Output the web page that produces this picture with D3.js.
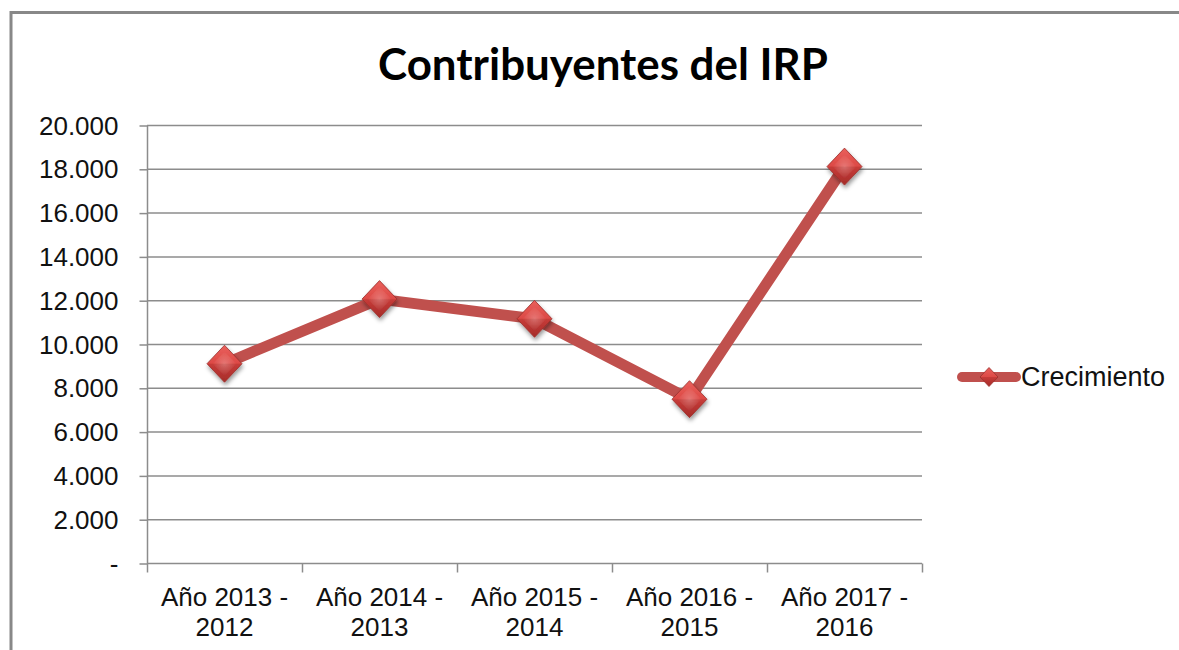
<!DOCTYPE html>
<html>
<head>
<meta charset="utf-8">
<script src="https://cdn.jsdelivr.net/npm/d3@7"></script>
<style>
  body { margin: 0; background: #fff; }
  svg { display: block; }
</style>
</head>
<body>
<svg id="svg"></svg>
<script>
// chart data
var categories = ["Año 2013 - 2012", "Año 2014 - 2013", "Año 2015 - 2014", "Año 2016 - 2015", "Año 2017 - 2016"];
var labelLines = [["Año 2013 -", "2012"], ["Año 2014 -", "2013"], ["Año 2015 -", "2014"], ["Año 2016 -", "2015"], ["Año 2017 -", "2016"]];
var crecimiento = [9100, 12050, 11150, 7480, 18100];
var yTicks = [0, 2000, 4000, 6000, 8000, 10000, 12000, 14000, 16000, 18000, 20000];
var seriesName = "Crecimiento";
var title = "Contribuyentes del IRP";

var width = 1179,
	height = 650,
	plotLeft = 147,
	plotRight = 922,
	plotTop = 125,
	plotBottom = 563,
	red = "#C0504D",
	grid = "#8C8C8C";

var svg = d3.select("#svg")
	.attr("width", width)
	.attr("height", height);

var defs = svg.append("defs");

// marker shading: lighter upper half, darker lower half
var grad = defs.append("linearGradient")
	.attr("id", "mk")
	.attr("x1", 0).attr("y1", 0).attr("x2", 0).attr("y2", 1);
grad.append("stop").attr("offset", "0%").attr("stop-color", "#E9605C");
grad.append("stop").attr("offset", "48%").attr("stop-color", "#DD4A46");
grad.append("stop").attr("offset", "52%").attr("stop-color", "#C63B38");
grad.append("stop").attr("offset", "100%").attr("stop-color", "#A52C29");

var shine = defs.append("radialGradient")
	.attr("id", "shine")
	.attr("cx", "50%").attr("cy", "50%").attr("r", "50%");
shine.append("stop").attr("offset", "0%").attr("stop-color", "#fff").attr("stop-opacity", 0.25);
shine.append("stop").attr("offset", "100%").attr("stop-color", "#fff").attr("stop-opacity", 0);

var shadow = defs.append("filter")
	.attr("id", "shadow")
	.attr("x", "-50%").attr("y", "-50%").attr("width", "200%").attr("height", "200%");
shadow.append("feDropShadow")
	.attr("dx", 1).attr("dy", 3).attr("stdDeviation", 2)
	.attr("flood-color", "#000").attr("flood-opacity", 0.4);

// outer frame
svg.append("rect")
	.attr("x", 11).attr("y", 12.5)
	.attr("width", width + 20).attr("height", height + 20)
	.attr("fill", "#fff")
	.attr("stroke", "#888").attr("stroke-width", 3);

var x = d3.scaleBand()
	.domain(categories)
	.range([plotLeft, plotRight]);

var y = d3.scaleLinear()
	.domain([0, 20000])
	.range([plotBottom, plotTop]);

var fmt = function(d){
	if(d === 0) return "-";
	return d3.format(",")(d).replace(/,/g, ".");
};

// gridlines
svg.append("g")
	.selectAll("line")
	.data(yTicks.slice(1))
	.enter()
	.append("line")
	.attr("x1", plotLeft).attr("x2", plotRight)
	.attr("y1", function(d){ return y(d) + 0.5; })
	.attr("y2", function(d){ return y(d) + 0.5; })
	.attr("stroke", grid).attr("stroke-width", 1.5);

// y axis
var yAxis = svg.append("g")
	.attr("transform", "translate(" + (plotLeft + 0.5) + ",0.5)")
	.call(d3.axisLeft(y).tickValues(yTicks).tickSize(8).tickPadding(21).tickFormat(fmt));
yAxis.selectAll("line, path").attr("stroke", grid).attr("stroke-width", 1.5);
yAxis.select(".domain").attr("d", "M0," + plotTop + "V" + plotBottom);
yAxis.selectAll("text")
	.attr("font-family", "'Liberation Sans', Arial, sans-serif")
	.attr("font-size", 26)
	.attr("fill", "#111")
	.attr("dy", "0.33em");

// x axis
var xAxis = svg.append("g")
	.attr("transform", "translate(0," + (plotBottom + 0.5) + ")")
	.call(d3.axisBottom(x).tickSize(0).tickFormat(""));
xAxis.select(".domain").attr("d", "M" + plotLeft + ",0H" + plotRight).attr("stroke", grid).attr("stroke-width", 1.5);
xAxis.selectAll(".tick").remove();

xAxis.append("g")
	.selectAll("line")
	.data(d3.range(categories.length + 1))
	.enter()
	.append("line")
	.attr("x1", function(i){ return plotLeft + i * x.bandwidth() + 0.5; })
	.attr("x2", function(i){ return plotLeft + i * x.bandwidth() + 0.5; })
	.attr("y1", 0).attr("y2", 9)
	.attr("stroke", grid).attr("stroke-width", 1.5);

var xl = xAxis.append("g")
	.selectAll("text")
	.data(categories)
	.enter()
	.append("text")
	.attr("x", function(d){ return x(d) + x.bandwidth() / 2; })
	.attr("y", 42)
	.attr("text-anchor", "middle")
	.attr("font-family", "'Liberation Sans', Arial, sans-serif")
	.attr("font-size", 26)
	.attr("fill", "#111");
xl.selectAll("tspan")
	.data(function(d, i){ return labelLines[i]; })
	.enter()
	.append("tspan")
	.attr("x", function(){ return d3.select(this.parentNode).attr("x"); })
	.attr("dy", function(d, i){ return i === 0 ? 0 : 30; })
	.text(function(d){ return d; });

// series line
var line = d3.line()
	.x(function(d, i){ return x(categories[i]) + x.bandwidth() / 2; })
	.y(function(d){ return y(d); });

svg.append("path")
	.datum(crecimiento)
	.attr("d", line)
	.attr("fill", "none")
	.attr("stroke", red)
	.attr("stroke-width", 11)
	.attr("stroke-linejoin", "round");

var diamond = function(rx, ry){
	return "M0," + (-ry) + "L" + rx + ",0L0," + ry + "L" + (-rx) + ",0Z";
};

var markers = svg.append("g")
	.selectAll("g")
	.data(crecimiento)
	.enter()
	.append("g")
	.attr("transform", function(d, i){
		return "translate(" + (x(categories[i]) + x.bandwidth() / 2) + "," + y(d) + ")";
	});
markers.append("path")
	.attr("d", diamond(17.5, 18.5))
	.attr("fill", "url(#mk)")
	.attr("stroke", "#9A2E2B")
	.attr("stroke-width", 0.8)
	.attr("filter", "url(#shadow)");
markers.append("path")
	.attr("d", diamond(12, 12))
	.attr("fill", "url(#shine)");

// legend
var legend = svg.append("g").attr("transform", "translate(958,377)");
legend.append("line")
	.attr("x1", 4).attr("x2", 58)
	.attr("y1", 0).attr("y2", 0)
	.attr("stroke", red)
	.attr("stroke-width", 10)
	.attr("stroke-linecap", "round");
legend.append("path")
	.attr("transform", "translate(31,0)")
	.attr("d", diamond(9, 9.5))
	.attr("fill", "url(#mk)")
	.attr("stroke", "#9A2E2B")
	.attr("stroke-width", 0.8);
legend.append("text")
	.attr("x", 63)
	.attr("y", 9)
	.attr("font-family", "'Liberation Sans', Arial, sans-serif")
	.attr("font-size", 27)
	.attr("fill", "#111")
	.text(seriesName);

// title
var t = svg.append("text")
	.attr("x", 603)
	.attr("y", 80)
	.attr("text-anchor", "middle")
	.attr("font-family", "Lato, 'Open Sans', sans-serif")
	.attr("font-weight", 700)
	.attr("font-size", 48)
	.attr("fill", "#000")
	.text(title);
var tw = t.node().getComputedTextLength();
t.attr("font-size", 48 * 450 / tw);
</script>
</body>
</html>
